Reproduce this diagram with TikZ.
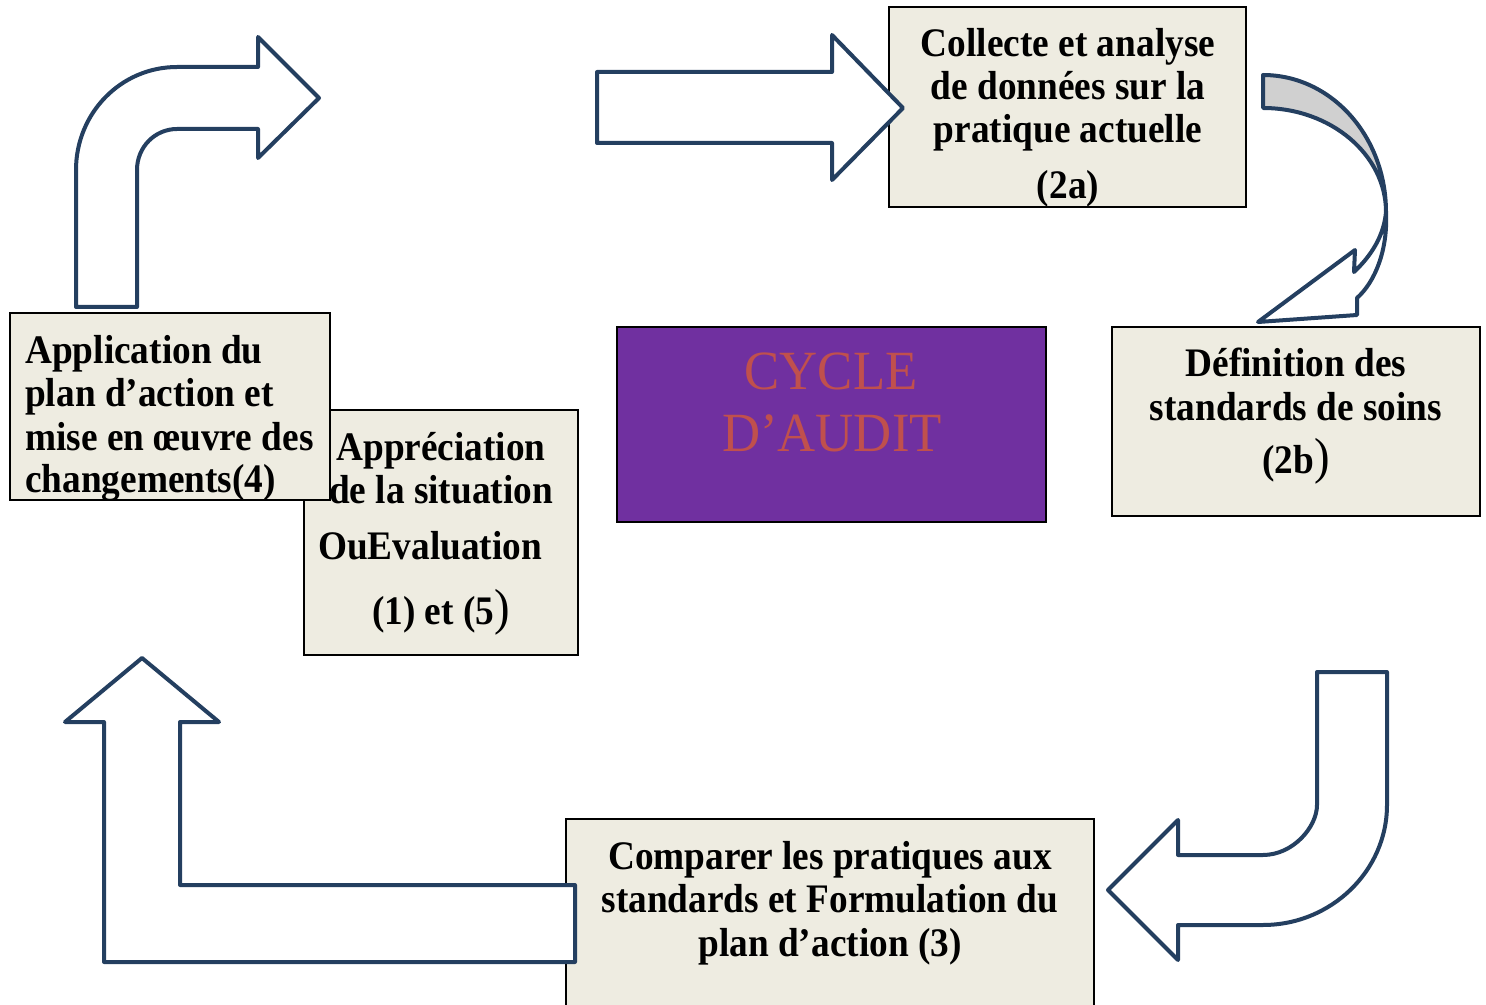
\documentclass[tikz,border=0pt]{standalone}
\usepackage{fontspec}
\newfontfamily\bxfont[FakeStretch=0.92]{Liberation Serif}
\newfontfamily\cyfont[FakeStretch=0.953]{Liberation Serif}
\definecolor{arrowblue}{HTML}{243F60}
\definecolor{boxfill}{HTML}{EEECE1}
\definecolor{purplefill}{HTML}{7030A0}
\definecolor{cycletext}{HTML}{C0504D}
\definecolor{bandgray}{HTML}{D0D0D0}
\newcommand\bparen{{\mdseries\fontsize{38}{40}\selectfont )}}
\begin{document}
\begin{tikzpicture}[x=0.75pt,y=-0.75pt,
  box/.style={draw=black, line width=2pt, fill=boxfill, rectangle, inner sep=0pt, outer sep=0pt},
  blockarrow/.style={draw=arrowblue, line width=3pt, line join=round, fill=white},
  lbl/.style={font=\bxfont\bfseries\fontsize{30.4}{32}\selectfont, inner sep=0pt, anchor=base},
  lblw/.style={lbl, anchor=base west},
  cyc/.style={font=\cyfont\fontsize{41.5}{46}\selectfont, text=cycletext, inner sep=0pt, anchor=base}]
\useasboundingbox (0,0) rectangle (1486,1005);

% boxes
\node[box, minimum width=267.75pt, minimum height=150pt] (b2a) at (1067.5,107) {};
\node[box, minimum width=276pt, minimum height=141.75pt] (b2b) at (1296,421.5) {};
\node[box, minimum width=396pt, minimum height=150.75pt] (b3) at (830,919.5) {};
\node[box, minimum width=205.5pt, minimum height=183.75pt] (b15) at (441,532.5) {};
\node[box, minimum width=240pt, minimum height=140.25pt] (b4) at (170,406.5) {};
\node[box, fill=purplefill, minimum width=321.75pt, minimum height=146.25pt] (bc) at (831.5,424.5) {};

% texts
\node[lbl] (t2a1) at (1068,56.5) {Collecte et analyse};
\node[lbl] (t2a2) at (1068,99.5) {de données sur la};
\node[lbl] (t2a3) at (1068,142.5) {pratique actuelle};
\node[lbl] (t2a4) at (1068,198.5) {(2a)};

\node[lbl] (t2b1) at (1296,376.5) {Définition des};
\node[lbl] (t2b2) at (1296,420.5) {standards de soins};
\node[lbl] (t2b3) at (1296,473.5) {(2b\bparen};

\node[lbl] (t31) at (830,869.5) {Comparer les pratiques aux};
\node[lbl] (t32) at (830,912.5) {standards et Formulation du};
\node[lbl] (t33) at (830,956.5) {plan d’action (3)};

\node[lblw] (t41) at (25,363.5) {Application du};
\node[lblw] (t42) at (25,406.5) {plan d’action et};
\node[lblw] (t43) at (25,450.5) {mise en œuvre des};
\node[lblw] (t44) at (25,492.5) {changements(4)};

\node[lbl] (t151) at (441,460.5) {Appréciation};
\node[lbl] (t152) at (441,503.5) {de la situation};
\node[lbl] (t153) at (430,559.5) {OuEvaluation};
\node[lbl] (t154) at (441,624.5) {(1) et (5\bparen};

\node[cyc] (tc1) at (831,390) {CYCLE};
\node[cyc] (tc2) at (832,452) {D’AUDIT};

% arrow: top straight
\draw[blockarrow] (597,72) -- (832,72) -- (832,35) -- (903,108) -- (832,180) -- (832,143) -- (597,143) -- cycle;

% arrow: top-left bent
\draw[blockarrow] (76,307) -- (76,170) .. controls (76,113) and (121,67) .. (177,67)
  -- (258,67) -- (258,37) -- (319,98) -- (258,158) -- (258,129) -- (177,129)
  .. controls (155,129) and (137,147) .. (137,170) -- (137,307) -- cycle;

% arrow: curved top-right
\draw[blockarrow, fill=bandgray] (1263,75) .. controls (1331,75) and (1386,136) .. (1386,212)
  .. controls (1386,155) and (1331,108) .. (1263,108) -- cycle;
\draw[blockarrow] (1386,212) .. controls (1388,250) and (1375,282) .. (1357,298)
  -- (1357,315) -- (1258,322) -- (1355,250) -- (1354,272)
  .. controls (1372,255) and (1384,235) .. (1386,212) -- cycle;

% arrow: bottom-right bent
\draw[blockarrow] (1317,672) -- (1387,672) -- (1387,805) .. controls (1387,871) and (1331,925) .. (1263,925)
  -- (1178,925) -- (1178,960) -- (1108,890) -- (1178,820) -- (1178,855) -- (1263,855)
  .. controls (1293,855) and (1317,827) .. (1317,805) -- cycle;

% arrow: bottom-left L
\draw[blockarrow] (575,962) -- (104,962) -- (104,722) -- (65,722) -- (142,658) -- (219,722)
  -- (180,722) -- (180,885) -- (575,885) -- cycle;
\end{tikzpicture}
\end{document}
